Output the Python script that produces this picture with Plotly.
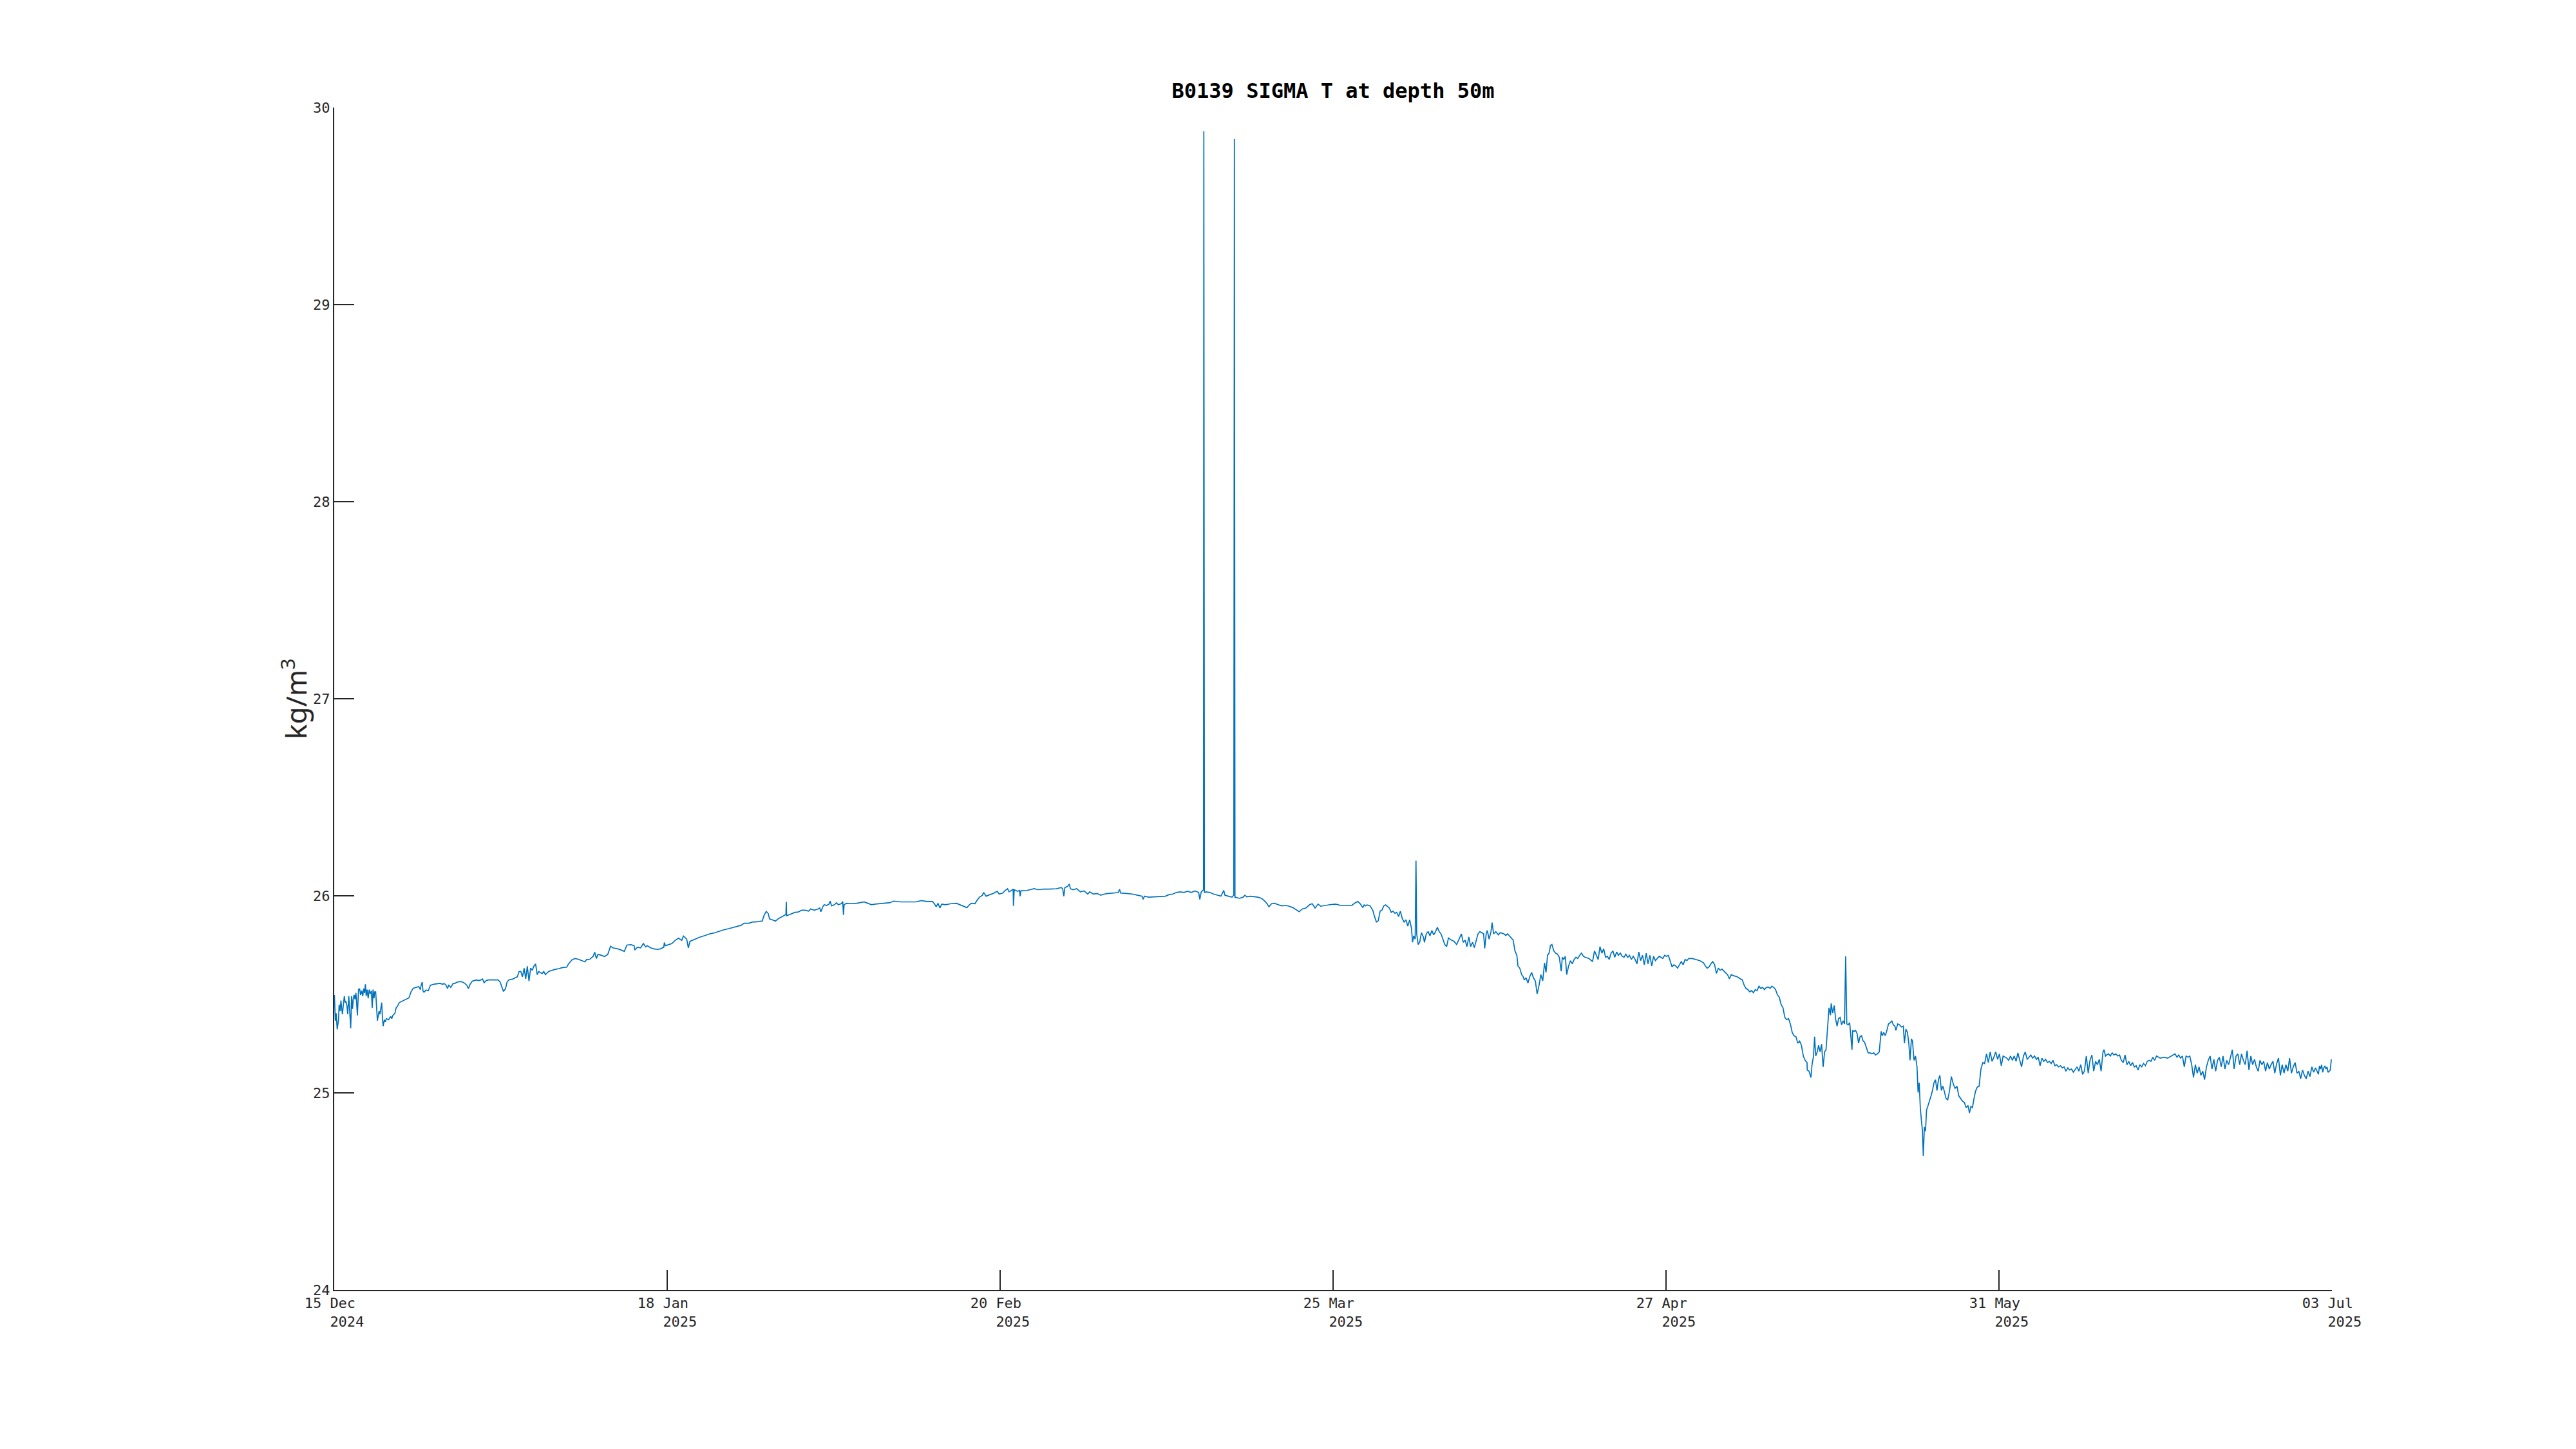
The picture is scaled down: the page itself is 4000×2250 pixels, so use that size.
import pandas as pd
import plotly.graph_objects as go

# ---- data: days since axis start, sigma-T (kg/m^3) ----
t_start = "2024-12-15 19:00"
span_days = 200.0

days_dec = [0.02,0.11,0.19,0.30,0.43,0.49,0.60,0.67,0.75,0.82,0.92,1.01,1.10,1.18,1.27,1.35,1.46,1.57,1.65,1.74,
            1.83,1.91,2.00,2.08,2.17,2.24,2.32,2.43,2.54,2.64,2.75,2.86,2.94,3.03,3.12,3.20,3.29,3.40,3.50,3.61,
            3.72,3.80,3.89,3.98,4.06,4.15,4.23,4.32,4.41,4.49,4.58,4.66,4.75,4.84,4.90,5.01,5.11,5.22,5.44,5.65,
            5.76,5.87,6.08,6.19,6.30,6.51,6.73,6.94,7.16,7.48,7.69,7.91,8.23,8.45,8.62,8.70,8.81,8.88,8.98,9.20,
            9.41,9.63,9.95,10.27,10.60,10.81,11.03,11.20,11.35,11.46,11.67,11.88,12.10,12.31,12.64,12.85,13.07,
            13.28,13.43,13.60,13.82,14.03,14.25,14.46,14.68,14.85,15.00,15.22,15.43,15.75,16.08,16.40,16.61,16.78,
            16.94,17.15,17.30,17.47,17.69,17.90,18.12,18.33]
sig_dec = [25.497,25.366,25.404,25.322,25.371,25.448,25.415,25.469,25.431,25.399,25.448,25.491,25.458,25.464,25.442,
           25.399,25.491,25.393,25.328,25.491,25.426,25.480,25.497,25.475,25.507,25.458,25.393,25.524,25.529,25.497,
           25.518,25.491,25.529,25.507,25.551,25.491,25.524,25.480,25.524,25.502,25.518,25.431,25.524,25.480,25.513,
           25.513,25.458,25.366,25.393,25.415,25.399,25.426,25.458,25.371,25.339,25.371,25.360,25.377,25.371,25.388,
           25.377,25.393,25.404,25.431,25.437,25.458,25.464,25.469,25.475,25.482,25.513,25.531,25.535,25.540,25.524,
           25.546,25.562,25.518,25.511,25.522,25.518,25.546,25.551,25.554,25.556,25.551,25.554,25.546,25.529,25.548,
           25.535,25.554,25.556,25.562,25.565,25.562,25.556,25.546,25.529,25.551,25.567,25.570,25.573,25.570,25.573,
           25.578,25.559,25.570,25.573,25.573,25.573,25.573,25.562,25.535,25.515,25.529,25.562,25.573,25.576,25.578,
           25.584,25.589]

days_jan = [18.51,18.68,18.84,19.01,19.17,19.33,19.50,19.66,19.83,19.99,20.16,20.32,20.48,20.81,20.98,21.14,21.47,
            21.80,22.13,22.46,22.79,23.28,23.45,23.78,24.10,24.43,24.76,25.09,25.26,25.58,25.91,26.08,26.24,26.41,
            26.74,27.06,27.39,27.66,27.89,28.38,28.71,29.04,29.30,29.70,30.02,30.09,30.35,30.68,30.95,31.18,31.34,
            31.67,32.00,32.33,32.66,32.99,33.05,33.15,33.48,33.81,34.14,34.47,34.79,34.96,35.29,35.45,35.62,36.11,
            36.60,37.10,37.59,38.08,38.41,38.91,39.56,40.22,40.72,41.04,41.54,41.87,42.20,42.53,42.85,43.02,43.25,
            43.45,43.58,43.84,44.17,44.50,44.83,45.09,45.22,45.26,45.29,45.49,45.82,46.14,46.47,46.80]
sig_jan = [25.616,25.616,25.589,25.633,25.578,25.643,25.567,25.633,25.622,25.643,25.654,25.600,25.616,25.605,25.616,
           25.600,25.616,25.622,25.627,25.630,25.635,25.638,25.654,25.674,25.682,25.678,25.671,25.665,25.676,25.678,
           25.692,25.714,25.682,25.703,25.698,25.692,25.703,25.744,25.736,25.731,25.725,25.718,25.750,25.752,25.747,
           25.725,25.739,25.736,25.758,25.741,25.747,25.736,25.731,25.728,25.731,25.739,25.763,25.747,25.752,25.758,
           25.774,25.785,25.774,25.796,25.780,25.736,25.769,25.780,25.790,25.798,25.807,25.812,25.818,25.826,25.834,
           25.842,25.850,25.861,25.861,25.867,25.867,25.870,25.872,25.899,25.921,25.910,25.883,25.878,25.872,25.885,
           25.894,25.899,25.905,25.970,25.899,25.903,25.910,25.916,25.918,25.927]

days_feb = [47.13,47.50,47.69,48.06,48.43,48.61,48.72,48.91,49.05,49.28,49.54,49.65,49.79,50.09,50.28,50.46,50.76,
            50.91,50.98,51.05,51.28,51.76,52.31,52.68,53.05,53.42,53.79,54.16,54.90,55.64,56.01,56.75,57.49,58.23,
            58.79,59.34,59.90,60.08,60.27,60.45,60.64,60.82,61.19,61.75,62.30,62.67,63.04,63.34,63.60,63.78,64.15,
            64.34,64.60,64.89,65.01,65.26,65.64,66.00,66.38,66.56,66.93,67.12,67.41,67.56,67.78,67.97,68.00,68.08,
            68.41,68.60,68.67,68.74,69.34,70.08,70.45,71.00,71.56,72.30,72.78,72.93,73.04,73.15,73.41,73.59,73.70,
            73.96,74.33,74.70,75.07,75.44,75.63,76.00,76.37,76.74,77.11,77.48,78.03,78.51,78.62,78.74,79.33,79.88,
            80.44,80.88,80.99,81.11,81.55,82.10,82.66,83.21,83.58,83.95,84.32,84.70,85.06,85.43,85.80,86.17,86.54,
            86.66,86.80,87.03,87.06,87.12,87.29,87.66,88.03,88.40,88.77,89.06,89.17,89.51,89.88,90.06,90.12,90.18,
            90.25,90.62,90.99,91.17,91.36,91.73,92.10,92.47,92.84,93.21,93.39,93.58,93.84,94.13,94.50,94.87,95.24,
            95.61,95.98,96.35,96.61,96.91,97.28,97.65,97.91,98.20,98.50,98.76,99.13,99.68,100.24,100.79,101.35,
            101.90]
sig_feb = [25.927,25.922,25.933,25.927,25.933,25.938,25.919,25.944,25.955,25.951,25.958,25.973,25.949,25.955,25.965,
           25.955,25.960,25.971,25.903,25.955,25.962,25.960,25.962,25.965,25.969,25.962,25.955,25.958,25.962,25.965,
           25.973,25.969,25.969,25.969,25.976,25.971,25.971,25.960,25.944,25.962,25.938,25.958,25.955,25.960,25.962,
           25.955,25.947,25.940,25.955,25.962,25.960,25.976,25.993,26.003,26.017,25.998,26.006,26.012,26.023,26.009,
           26.014,26.025,26.036,26.020,26.027,26.034,25.949,26.031,26.023,26.027,25.998,26.025,26.027,26.036,26.031,
           26.034,26.034,26.036,26.042,26.036,25.998,26.042,26.047,26.060,26.036,26.031,26.036,26.020,26.025,26.009,
           26.020,26.009,26.012,26.003,26.009,26.012,26.014,26.017,26.033,26.014,26.012,26.009,26.003,25.998,25.982,
           25.998,25.993,25.995,25.995,25.998,26.006,26.009,26.017,26.020,26.017,26.023,26.017,26.025,26.017,25.982,
           26.020,26.031,29.88,26.017,26.020,26.017,26.009,26.003,25.998,26.027,26.003,25.998,25.993,26.003,29.84,
           25.990,25.993,25.987,25.993,26.003,25.995,25.998,25.995,25.993,25.987,25.971,25.960,25.944,25.960,25.962,
           25.955,25.949,25.951,25.947,25.940,25.929,25.919,25.933,25.938,25.955,25.960,25.938,25.958,25.947,25.951,
           25.955,25.958,25.951,25.951,25.951]

days_apr = [101.93,102.23,102.49,102.74,102.97,103.11,103.23,103.41,103.71,103.97,104.15,104.34,104.52,104.71,104.89,
            105.08,105.26,105.45,105.63,105.82,106.00,106.19,106.37,106.56,106.74,106.93,107.11,107.30,107.48,107.67,
            107.85,107.96,108.07,108.22,108.30,108.37,108.52,108.67,108.85,109.04,109.15,109.33,109.52,109.70,109.89,
            110.07,110.26,110.44,110.63,110.81,111.00,111.18,111.37,111.55,111.85,112.11,112.37,112.66,112.85,113.03,
            113.22,113.40,113.59,113.77,113.96,114.14,114.33,114.51,114.70,114.88,115.07,115.18,115.33,115.44,115.62,
            115.81,115.92,116.07,116.29,116.55,116.73,117.10,117.29,117.47,117.77,118.03,118.21,118.40,118.51,118.69,
            118.88,119.03,119.14,119.32,119.51,119.69,119.88,120.06,120.25,120.43,120.62,120.80,120.99,121.17,121.32,
            121.47,121.62,121.77,121.91,122.10,122.28,122.47,122.65,122.84,122.95,123.10,123.25,123.39,123.58,123.76,
            123.95,124.13,124.32,124.50,124.69,124.87,125.06,125.24,125.61,125.98,126.17,126.35,126.54,126.72,126.91,
            127.09,127.28,127.46,127.65,127.83,128.02,128.20,128.39,128.57,128.76,128.94,129.13,129.31,129.50,129.68,
            129.87,130.05,130.24,130.42,130.61,130.79,130.98,131.16,131.35,131.53,131.72,131.90,132.09,132.27,132.46,
            132.64,132.83,133.01,133.20,133.38,133.57,133.75,133.94,134.12,134.31,134.49,134.68,134.86,135.05,135.24,
            135.42,135.61,135.98,136.35,136.72,137.09,137.27,137.46,137.64,137.83,138.01,138.20,138.38,138.57,138.75,
            138.94,139.31,139.49,139.68,139.86,140.05,140.42,140.60,140.79,140.97,141.16,141.34,141.53,141.71,141.90,
            142.08,142.27,142.45,142.64,142.82,143.01,143.19,143.38,143.56,143.75,143.93,144.12,144.30,144.49,144.67,
            144.86,145.04,145.23,145.41,145.60,145.78,145.97,146.15,146.34,146.52,146.71,146.89,147.08,147.26,147.45]
sig_apr = [25.954,25.965,25.971,25.958,25.940,25.954,25.949,25.954,25.949,25.927,25.895,25.867,25.873,25.922,25.927,
           25.949,25.954,25.947,25.938,25.916,25.922,25.911,25.916,25.895,25.922,25.884,25.867,25.878,25.846,25.878,
           25.835,25.764,25.797,25.780,26.178,25.807,25.753,25.764,25.813,25.791,25.764,25.807,25.818,25.797,25.824,
           25.802,25.818,25.840,25.818,25.807,25.775,25.753,25.742,25.786,25.775,25.769,25.753,25.786,25.807,25.764,
           25.775,25.742,25.791,25.742,25.764,25.737,25.775,25.807,25.818,25.813,25.807,25.733,25.807,25.824,25.780,
           25.818,25.864,25.807,25.818,25.802,25.813,25.807,25.799,25.807,25.791,25.775,25.720,25.698,25.644,25.633,
           25.600,25.590,25.573,25.584,25.557,25.590,25.611,25.584,25.568,25.502,25.546,25.600,25.568,25.660,25.611,
           25.698,25.709,25.748,25.753,25.720,25.709,25.704,25.688,25.617,25.688,25.677,25.693,25.600,25.644,25.671,
           25.655,25.677,25.688,25.682,25.698,25.709,25.693,25.688,25.682,25.666,25.720,25.698,25.677,25.742,25.709,
           25.731,25.688,25.693,25.677,25.709,25.720,25.688,25.715,25.698,25.709,25.693,25.688,25.704,25.688,25.698,
           25.677,25.693,25.677,25.655,25.715,25.671,25.698,25.650,25.709,25.655,25.698,25.644,25.693,25.671,25.682,
           25.693,25.688,25.682,25.698,25.693,25.698,25.666,25.639,25.650,25.644,25.633,25.650,25.666,25.650,25.677,
           25.671,25.682,25.682,25.677,25.671,25.660,25.644,25.633,25.639,25.655,25.666,25.650,25.606,25.633,25.622,
           25.628,25.611,25.600,25.579,25.600,25.595,25.590,25.584,25.579,25.573,25.546,25.530,25.524,25.513,25.519,
           25.508,25.524,25.519,25.541,25.530,25.535,25.524,25.535,25.537,25.530,25.541,25.535,25.524,25.497,25.486,
           25.448,25.432,25.383,25.372,25.377,25.350,25.306,25.290,25.285,25.252,25.263,25.241,25.187,25.165,25.154]

days_may = [147.47,147.65,147.84,147.95,148.10,148.21,148.32,148.47,148.61,148.76,148.91,149.06,149.21,149.35,149.50,
            149.65,149.80,149.87,150.02,150.17,150.32,150.46,150.61,150.76,150.91,151.06,151.20,151.32,151.43,151.57,
            151.72,151.83,151.95,152.02,152.17,152.31,152.46,152.61,152.76,152.91,153.06,153.20,153.39,153.57,153.76,
            153.94,154.13,154.31,154.50,154.68,154.87,154.98,155.13,155.28,155.42,155.61,155.79,155.94,156.09,156.24,
            156.35,156.53,156.72,156.90,157.09,157.20,157.35,157.50,157.64,157.76,157.90,158.01,158.16,158.31,158.46,
            158.57,158.68,158.79,158.90,159.01,159.09,159.20,159.31,159.42,159.57,159.72,159.87,160.01,160.16,160.31,
            160.46,160.61,160.75,160.90,161.05,161.20,161.35,161.53,161.72,161.90,162.09,162.27,162.46,162.64,162.83,
            163.01,163.20,163.38,163.57,163.71,163.86,164.01,164.16,164.31,164.49,164.68,164.86,165.05,165.23,165.42,
            165.60,165.79,165.97,166.16,166.34,166.53,166.71,166.90,167.08,167.27,167.45,167.64,167.82,168.01,168.19,
            168.38,168.56,168.75,168.93,169.12,169.30,169.49,169.67,169.86,170.04,170.23,170.41,170.60,170.78,170.97,
            171.15,171.34,171.52,171.71,171.89,172.08,172.26,172.45,172.63,172.82,173.00,173.19,173.37,173.56,173.74,
            173.93,174.11,174.30,174.48,174.67,174.85,175.04,175.22,175.41,175.60,175.78,175.97,176.15,176.34,176.52,
            176.71,176.89,177.08,177.19,177.33,177.44,177.63,177.81,178.00,178.18,178.37,178.55,178.74,178.92,179.11,
            179.29,179.48,179.66,179.85,180.03,180.22,180.40,180.59,180.77,180.96,181.14,181.33,181.51,181.70,181.88,
            182.07,182.25,182.44,182.81,183.18,183.55,183.92,184.29,184.48,184.66,184.85,185.03,185.22,185.40,185.59,
            185.77,185.96,186.14,186.33,186.51,186.70,186.88,187.07,187.25,187.44,187.62,187.81,187.99,188.18,188.36,
            188.55,188.73,188.92,189.10,189.29,189.47,189.66,189.84,190.03,190.21,190.40,190.58,190.77,190.95,191.14,
            191.32,191.51,191.69,191.88,192.06,192.25,192.43,192.62,192.80,192.99,193.17,193.36,193.54,193.73,193.91,
            194.10,194.28,194.47,194.65,194.84,195.02,195.21,195.39,195.58,195.76,195.95,196.13,196.32,196.50,196.69,
            196.87,197.06,197.24,197.43,197.61,197.80,197.99,198.17,198.36,198.65,198.75,198.86,198.97,199.08,199.18,
            199.29,199.40,199.51,199.61,199.72,199.83,199.94]
sig_may = [25.116,25.110,25.078,25.143,25.187,25.285,25.187,25.208,25.241,25.208,25.247,25.132,25.208,25.219,25.339,
           25.432,25.394,25.454,25.405,25.443,25.372,25.339,25.377,25.383,25.345,25.366,25.350,25.693,25.350,25.345,
           25.356,25.296,25.219,25.317,25.312,25.317,25.301,25.252,25.285,25.290,25.263,25.258,25.230,25.203,25.203,
           25.198,25.203,25.192,25.198,25.208,25.312,25.290,25.307,25.290,25.312,25.350,25.356,25.366,25.345,25.339,
           25.317,25.350,25.345,25.334,25.339,25.252,25.323,25.307,25.252,25.165,25.274,25.263,25.165,25.187,25.132,
           25.002,25.051,24.925,24.860,24.806,24.680,24.827,24.806,24.914,24.936,24.958,24.985,25.012,25.051,25.067,
           25.012,25.067,25.089,25.012,25.034,25.007,24.974,24.963,25.012,25.083,25.045,25.023,25.034,24.985,24.969,
           24.958,24.952,24.925,24.936,24.898,24.931,24.925,24.969,25.007,25.029,25.034,25.121,25.154,25.149,25.198,
           25.154,25.208,25.160,25.181,25.208,25.170,25.198,25.138,25.187,25.181,25.176,25.165,25.187,25.165,25.187,
           25.160,25.203,25.165,25.132,25.187,25.208,25.170,25.181,25.192,25.176,25.187,25.170,25.181,25.138,25.176,
           25.160,25.170,25.154,25.160,25.149,25.165,25.138,25.143,25.132,25.138,25.127,25.132,25.110,25.127,25.116,
           25.121,25.105,25.121,25.132,25.110,25.143,25.094,25.110,25.187,25.100,25.165,25.192,25.110,25.160,25.143,
           25.170,25.110,25.208,25.219,25.187,25.192,25.198,25.187,25.203,25.192,25.198,25.187,25.192,25.165,25.154,
           25.192,25.143,25.160,25.138,25.154,25.132,25.138,25.116,25.143,25.132,25.149,25.138,25.160,25.165,25.160,
           25.181,25.165,25.187,25.176,25.181,25.176,25.187,25.198,25.181,25.192,25.176,25.187,25.132,25.187,25.181,
           25.187,25.143,25.078,25.143,25.100,25.132,25.089,25.110,25.067,25.132,25.165,25.187,25.121,25.170,25.110,
           25.165,25.181,25.132,25.187,25.121,25.165,25.143,25.176,25.219,25.121,25.187,25.198,25.143,25.198,25.165,
           25.143,25.214,25.116,25.187,25.143,25.170,25.132,25.110,25.165,25.143,25.160,25.110,25.154,25.121,25.143,
           25.160,25.100,25.149,25.176,25.089,25.143,25.100,25.143,25.110,25.176,25.100,25.132,25.154,25.100,25.110,
           25.072,25.116,25.089,25.072,25.110,25.083,25.132,25.105,25.127,25.094,25.137,25.121,25.142,25.104,25.126,
           25.137,25.121,25.131,25.104,25.110,25.115,25.170]

tick_labels = ["15 Dec\u00a0<br>\u00a0\u00a0\u00a02024", "18 Jan\u00a0<br>\u00a0\u00a0\u00a02025",
               "20 Feb\u00a0<br>\u00a0\u00a0\u00a02025", "25 Mar\u00a0<br>\u00a0\u00a0\u00a02025",
               "27 Apr\u00a0<br>\u00a0\u00a0\u00a02025", "31 May\u00a0<br>\u00a0\u00a0\u00a02025",
               "03 Jul\u00a0<br>\u00a0\u00a0\u00a02025"]
y_ticks = [24, 25, 26, 27, 28, 29, 30]

# ---- build ----
days = days_dec + days_jan + days_feb + days_apr + days_may
sig = sig_dec + sig_jan + sig_feb + sig_apr + sig_may
t0 = pd.Timestamp(t_start)
times = [t0 + pd.Timedelta(days=d) for d in days]
t_end = t0 + pd.Timedelta(days=span_days)
tick_vals = [t0 + pd.Timedelta(days=span_days * k / 6) for k in range(7)]

axis_col = "#262626"
mono = "DejaVu Sans Mono"

# page body has an 8px default margin; figure is sized to sit inside the window
W, H = 3984, 2234
off = 8
left, right_edge, top, bottom_edge = 519 - off, 3621 - off, 167 - off, 2003 - off

fig = go.Figure()
fig.add_trace(go.Scatter(x=times, y=sig, mode="lines",
                         line=dict(color="#0072BD", width=1.7), hoverinfo="skip"))

fig.update_layout(
    width=W, height=H,
    paper_bgcolor="white", plot_bgcolor="white",
    margin=dict(l=left, r=W - right_edge, t=top, b=H - bottom_edge, pad=0),
    showlegend=False,
    title=dict(text="B0139 SIGMA T at depth 50m", x=0.5, xanchor="center", xref="paper",
               y=1 - (141 - off) / H, yanchor="middle", yref="container",
               font=dict(family=mono, size=32, color="black", weight="bold")),
    xaxis=dict(type="date", range=[t0, t_end], tickmode="array",
               tickvals=tick_vals, ticktext=tick_labels,
               ticks="inside", ticklen=31, tickwidth=2, tickcolor=axis_col,
               showline=True, linecolor=axis_col, linewidth=2,
               showgrid=False, zeroline=False,
               tickfont=dict(family=mono, size=22, color=axis_col)),
    yaxis=dict(range=[24, 30], tickmode="array", tickvals=y_ticks,
               ticktext=[str(v) for v in y_ticks],
               ticks="inside", ticklen=31, tickwidth=2, tickcolor=axis_col,
               showline=True, linecolor=axis_col, linewidth=2,
               showgrid=False, zeroline=False,
               tickfont=dict(family=mono, size=22, color=axis_col)),
    annotations=[dict(text="kg/m<sup>3</sup>", xref="paper", yref="paper",
                      x=(457 - 519) / (3621 - 519), y=0.5, xanchor="center", yanchor="middle",
                      textangle=-90, showarrow=False,
                      font=dict(family="Noto Sans", size=44, color=axis_col))],
)

fig.write_html("out.html")
